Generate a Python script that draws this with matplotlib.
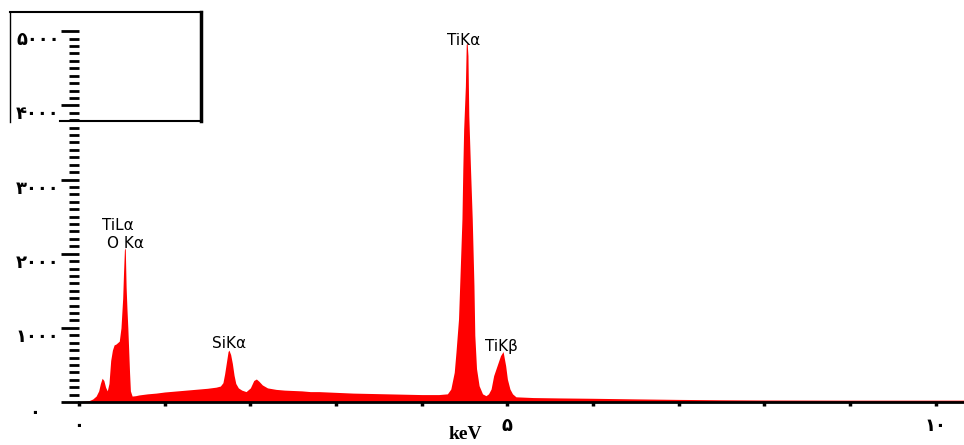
import matplotlib
matplotlib.use("Agg")
import matplotlib.pyplot as plt
from matplotlib.lines import Line2D

# EDS spectrum (energy in keV, counts)
energy = [0.00, 0.04, 0.08, 0.12, 0.16, 0.20, 0.23, 0.25, 0.27, 0.29, 0.31, 0.33,
          0.35, 0.37, 0.39, 0.41, 0.43, 0.45, 0.47, 0.49, 0.51, 0.52, 0.53, 0.54,
          0.55, 0.56, 0.57, 0.58, 0.59, 0.60, 0.62, 0.66, 0.70, 0.80, 0.90, 1.00,
          1.10, 1.20, 1.30, 1.40, 1.50, 1.60, 1.65, 1.68, 1.70, 1.72, 1.74, 1.75,
          1.77, 1.79, 1.81, 1.83, 1.86, 1.90, 1.95, 2.00, 2.04, 2.07, 2.10, 2.14,
          2.20, 2.30, 2.40, 2.50, 2.60, 2.70, 2.80, 2.90, 3.00, 3.20, 3.40, 3.60,
          3.80, 4.00, 4.20, 4.30, 4.34, 4.38, 4.40, 4.43, 4.45, 4.47, 4.48, 4.49,
          4.51, 4.52, 4.53, 4.54, 4.55, 4.57, 4.59, 4.61, 4.62, 4.64, 4.67, 4.71,
          4.75, 4.78, 4.81, 4.84, 4.88, 4.92, 4.95, 4.98, 5.00, 5.03, 5.06, 5.10,
          5.30, 5.60, 6.00, 6.50, 7.00, 7.50, 8.00, 9.00, 10.00, 10.33]
counts = [0, 10, 15, 20, 40, 80, 150, 250, 320, 290, 200, 150,
          250, 560, 700, 770, 780, 800, 820, 1000, 1400, 1750, 2050, 2080,
          1550, 1250, 1000, 700, 400, 150, 80, 85, 95, 110, 120, 135,
          145, 155, 165, 175, 185, 200, 215, 260, 380, 530, 680, 700,
          640, 520, 360, 250, 190, 160, 140, 190, 290, 310, 280, 230,
          190, 170, 160, 155, 150, 140, 140, 135, 130, 120, 115, 110,
          105, 100, 100, 110, 175, 400, 670, 1120, 1790, 2470, 3140, 3680,
          4260, 4820, 4850, 4670, 3860, 3140, 2470, 1570, 900, 450, 220, 110,
          85, 110, 175, 355, 490, 625, 680, 490, 310, 175, 110, 70,
          60, 55, 50, 42, 35, 30, 27, 25, 25, 25]

# peak labels (text baseline position)
peak_names = ["TiL\u03b1", "O K\u03b1", "SiK\u03b1", "TiK\u03b1", "TiK\u03b2"]
peak_pos = [(0.455, 2320), (0.537, 2080), (1.75, 730), (4.49, 4815), (4.93, 690)]

# Persian digits for the tick labels
yticks = [0, 1000, 2000, 3000, 4000, 5000]
ytick_labels = ["", "\u06f1\u06f0\u06f0\u06f0", "\u06f2\u06f0\u06f0\u06f0",
                "\u06f3\u06f0\u06f0\u06f0", "\u06f4\u06f0\u06f0\u06f0",
                "\u06f5\u06f0\u06f0\u06f0"]
xticks = list(range(11))
xtick_labels = ["\u06f0", "", "", "", "", "\u06f5", "", "", "", "", "\u06f1\u06f0"]

fig = plt.figure(figsize=(9.64, 4.45), dpi=100)
ax = fig.add_axes([79 / 964, 43 / 445, 885 / 964, 376 / 445])

ax.fill_between(energy, counts, color="#ff0000", lw=0)
ax.set_xlim(0, 10.33)
ax.set_ylim(0, 5070)

for side in ["left", "top", "right"]:
    ax.spines[side].set_visible(False)
ax.spines["bottom"].set_linewidth(2)

ax.set_yticks(yticks)
ax.set_yticklabels(ytick_labels, fontsize=13, fontweight="bold", family="DejaVu Sans")
ax.set_yticks(range(0, 5001, 100), minor=True)
ax.tick_params(axis="y", which="major", length=13, width=2, pad=1)
ax.tick_params(axis="y", which="minor", length=7, width=2)
for lab in ax.get_yticklabels():
    lab.set_va("top")

ax.set_xticks(xticks)
ax.set_xticklabels(xtick_labels, fontsize=13, fontweight="bold", family="DejaVu Sans")
ax.tick_params(axis="x", which="major", length=3, width=2.5, pad=8)

# the zero of the y axis sits off on its own
fig.text(35 / 964, 1 - 413 / 445, "\u06f0", fontsize=13, fontweight="bold",
         family="DejaVu Sans", ha="center", va="center")

ax.set_xlabel("keV", fontsize=14, fontweight="bold", family="Liberation Serif", va="bottom")
ax.xaxis.set_label_coords((465 - 79) / 885, -(443 - 402) / 376)

for name, (x, y) in zip(peak_names, peak_pos):
    ax.text(x, y, name, fontsize=11, family="DejaVu Sans", ha="center", va="baseline")

# empty inset frame in the top left corner
W, H = 964, 445
fig.add_artist(Line2D([10 / W, 10 / W], [1 - 12 / H, 1 - 122 / H], color="black", lw=1))
fig.add_artist(Line2D([10 / W, 202 / W], [1 - 12 / H, 1 - 12 / H], color="black", lw=1.5))
fig.add_artist(Line2D([201 / W, 201 / W], [1 - 12 / H, 1 - 121 / H], color="black", lw=2.5))
fig.add_artist(Line2D([60 / W, 202 / W], [1 - 121 / H, 1 - 121 / H], color="black", lw=1.5))

fig.savefig("out.png", dpi=100)
